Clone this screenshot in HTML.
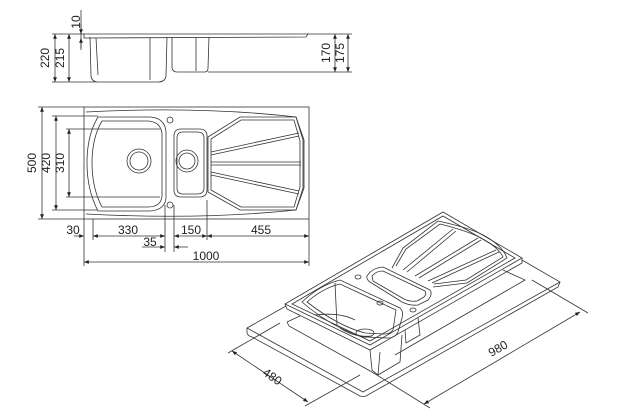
<!DOCTYPE html>
<html><head><meta charset="utf-8"><style>
html,body{margin:0;padding:0;background:#fff;width:625px;height:416px;overflow:hidden}
svg{display:block}
text{font-family:"Liberation Sans",sans-serif;font-size:12px;fill:#222}
</style></head><body>
<svg width="625" height="416" viewBox="0 0 625 416" xmlns="http://www.w3.org/2000/svg">
<defs>
<marker id="a" viewBox="0 0 10 10" refX="10" refY="5" markerWidth="6" markerHeight="6" orient="auto-start-reverse"><path d="M0,1 L10,5 L0,9z" fill="#222"/></marker>
</defs>
<g stroke="#333" stroke-width="0.8" fill="none">
<!-- side view -->
<line x1="52" y1="34" x2="84" y2="34"/><line x1="52" y1="82" x2="95" y2="82"/>
<path d="M84,34 L308,34 L306,37 L84,38z"/>
<path d="M90,37 L91,76 Q92,82 98,82 L158,82 Q165,82 166,76 L167,37"/>
<path d="M96,38 L98,75 M150,38 L150,80"/>
<path d="M172,37 L172,68 Q173,72 177,72 L205,72 Q208,72 208,68 L209,37"/>
<path d="M196,38 L196,71"/>
<line x1="208" y1="72" x2="352" y2="72"/><line x1="308" y1="34" x2="352" y2="34"/>
<line x1="81" y1="10" x2="81" y2="50"/>
<line x1="55" y1="34" x2="55" y2="82" marker-start="url(#a)" marker-end="url(#a)"/>
<line x1="69" y1="34" x2="69" y2="82" marker-start="url(#a)" marker-end="url(#a)"/>
<line x1="81" y1="24" x2="81" y2="34" marker-end="url(#a)"/>
<line x1="81" y1="48" x2="81" y2="38" marker-end="url(#a)"/>
<line x1="335" y1="34" x2="335" y2="72" marker-start="url(#a)" marker-end="url(#a)"/>
<line x1="348" y1="34" x2="348" y2="72" marker-start="url(#a)" marker-end="url(#a)"/>
<!-- top view -->
<rect x="84" y="107" width="225" height="112"/>
<line x1="38" y1="107" x2="84" y2="107"/><line x1="38" y1="219" x2="84" y2="219"/>
<line x1="52" y1="116" x2="98" y2="116"/><line x1="52" y1="210" x2="98" y2="210"/>
<line x1="66" y1="129" x2="160" y2="129"/><line x1="66" y1="197" x2="160" y2="197"/>
<line x1="42" y1="107" x2="42" y2="219" marker-start="url(#a)" marker-end="url(#a)"/>
<line x1="56" y1="116" x2="56" y2="210" marker-start="url(#a)" marker-end="url(#a)"/>
<line x1="69" y1="129" x2="69" y2="197" marker-start="url(#a)" marker-end="url(#a)"/>
<path d="M86,112 Q200,106 296,117 L304,140 L304,188 L296,210 Q200,220 86,214"/>
<path d="M98,117 L150,117 Q165,118 166,132 L166,198 Q165,210 150,211 L98,211 Q87,190 87,163 Q87,135 98,117z"/>
<path d="M102,121 L148,121 Q161,122 162,134 L162,196 Q161,207 148,207 L102,207 Q92,188 92,163 Q92,138 102,121z"/>
<circle cx="139" cy="161" r="12"/><circle cx="139" cy="161" r="9"/>
<path d="M174,136 Q174,129 181,129 L199,129 Q207,129 207,136 L207,190 Q207,197 199,197 L181,197 Q174,197 174,190z"/>
<path d="M177,138 Q177,132 183,132 L197,132 Q204,132 204,138 L204,188 Q204,194 197,194 L183,194 Q177,194 177,188z"/>
<circle cx="187" cy="161" r="11"/><circle cx="187" cy="161" r="8"/>
<circle cx="170" cy="120" r="3"/><circle cx="170" cy="205" r="3"/>
<path d="M208,137 L240,117 L296,117 L303,140 L303,188 L296,210 L240,210 L208,192z"/>
<path d="M211,139 L241,120 L294,120 L300,141 L300,187 L294,207 L241,207 L211,190z"/>
<path d="M211,152 L299,133 M211,155 L299,136 M211,162 L301,162 M211,165 L301,165 M211,172 L299,191 M211,175 L299,194"/>
<!-- dims below top view -->
<line x1="84" y1="219" x2="84" y2="266"/><line x1="309" y1="219" x2="309" y2="266"/>
<line x1="93" y1="219" x2="93" y2="240"/><line x1="165" y1="205" x2="165" y2="252"/>
<line x1="174" y1="205" x2="174" y2="252"/><line x1="207" y1="200" x2="207" y2="240"/>
<line x1="74" y1="236" x2="84" y2="236" marker-end="url(#a)"/>
<line x1="93" y1="236" x2="165" y2="236" marker-start="url(#a)" marker-end="url(#a)"/>
<line x1="174" y1="236" x2="207" y2="236" marker-start="url(#a)" marker-end="url(#a)"/>
<line x1="207" y1="236" x2="309" y2="236" marker-start="url(#a)" marker-end="url(#a)"/>
<line x1="142" y1="247" x2="165" y2="247" marker-end="url(#a)"/>
<line x1="188" y1="247" x2="174" y2="247" marker-end="url(#a)"/>
<line x1="84" y1="262" x2="309" y2="262" marker-start="url(#a)" marker-end="url(#a)"/>
<!-- iso view: slab -->
<path d="M286,306 L247,328 L247,333 Q248,336 252,337 L360,396 Q363,397 366,396 L558,287 L560,282 L522,260"/>
<path d="M247,328 L363,392 L560,282"/>
<!-- slab cutout edges -->
<path d="M287,322 L300,316 M287,322 L289,326 L372,372"/>
<path d="M503,270 L525,280 L395,355"/>
<!-- sink rim -->
<path d="M285,304 L443,212 L522,258 L370,345z"/>
<path d="M285,304 L287,309 L370,350 L522,263 L522,258"/>
<path d="M292,304 L443,216 L515,258 L370,341z"/>
<!-- big bowl -->
<path d="M302,302 Q320,285 340,280 L400,308 Q404,312 402,318 L398,332 Q395,338 388,338 L365,337 Q335,330 302,302z"/>
<path d="M307,302 Q323,288 340,284 L396,310 L393,330 Q390,334 385,334 L365,333 Q338,326 307,302z"/>
<path d="M335,283 L337,325 M315,315 Q340,312 355,320 M340,328 Q355,338 372,336"/>
<ellipse cx="365" cy="333" rx="9" ry="4"/>
<path d="M370,350 L372,370 L378,375 L400,362 L402,335 M378,375 L380,352"/>
<path d="M405,330 L406,343 L420,335 L418,318"/>
<!-- small bowl -->
<path d="M367,276 Q372,268 383,267 L430,290 Q433,294 428,300 L418,305 Q410,306 402,302 L370,282 Q366,279 367,276z"/>
<path d="M372,276 Q376,271 383,271 L425,291 Q427,294 424,297 L417,301 Q410,302 404,299 L373,281z"/>
<ellipse cx="358" cy="277" rx="3" ry="2"/><ellipse cx="380" cy="303" rx="3" ry="2"/><ellipse cx="413" cy="310" rx="3" ry="2"/>
<!-- drainer -->
<path d="M392,268 L403,248 L438,221 Q470,228 483,235 Q502,245 507,258 L467,283 L433,287"/>
<path d="M396,266 L406,249 L440,224 Q468,231 481,238 Q498,247 503,257 L466,280 L434,284"/>
<path d="M403,270 L453,229 M407,272 L456,231 M415,276 L478,238 M419,278 L481,240 M428,281 L496,250 M432,283 L499,252"/>
<!-- dims -->
<line x1="280" y1="323" x2="228" y2="353"/><line x1="360" y1="375" x2="305" y2="406"/>
<line x1="232" y1="351" x2="308" y2="402" marker-start="url(#a)" marker-end="url(#a)"/>
<line x1="372" y1="372" x2="430" y2="408"/><line x1="532" y1="280" x2="588" y2="313"/>
<line x1="424" y1="404" x2="580" y2="312" marker-start="url(#a)" marker-end="url(#a)"/>
</g>
<text x="80" y="22" transform="rotate(-90 80 22)" text-anchor="middle">10</text>
<text x="49" y="58" transform="rotate(-90 49 58)" text-anchor="middle">220</text>
<text x="64" y="58" transform="rotate(-90 64 58)" text-anchor="middle">215</text>
<text x="330" y="53" transform="rotate(-90 330 53)" text-anchor="middle">170</text>
<text x="344" y="53" transform="rotate(-90 344 53)" text-anchor="middle">175</text>
<text x="36" y="163" transform="rotate(-90 36 163)" text-anchor="middle">500</text>
<text x="50" y="163" transform="rotate(-90 50 163)" text-anchor="middle">420</text>
<text x="64" y="163" transform="rotate(-90 64 163)" text-anchor="middle">310</text>
<text x="73" y="234" text-anchor="middle">30</text>
<text x="128" y="234" text-anchor="middle">330</text>
<text x="150" y="246" text-anchor="middle">35</text>
<text x="191" y="234" text-anchor="middle">150</text>
<text x="261" y="234" text-anchor="middle">455</text>
<text x="206" y="260" text-anchor="middle">1000</text>
<text x="270" y="380" transform="rotate(35 270 380)" text-anchor="middle">480</text>
<text x="500" y="352" transform="rotate(-30 500 352)" text-anchor="middle">980</text>
</svg>
</body></html>
